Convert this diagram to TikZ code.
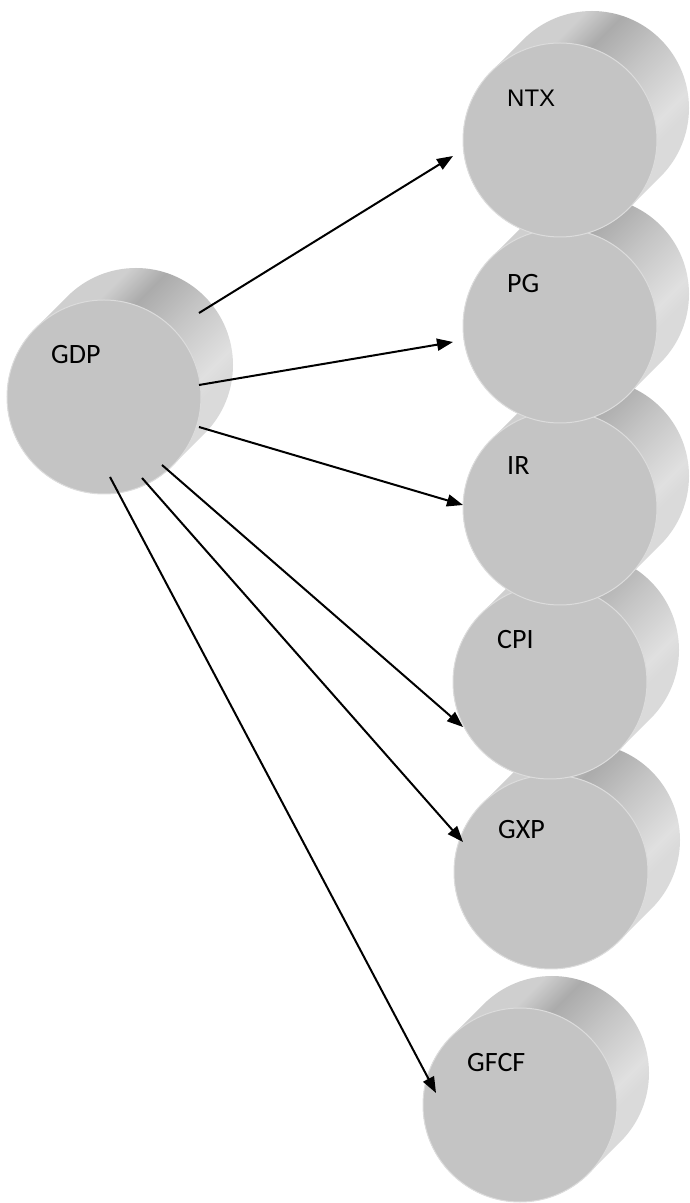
\documentclass[tikz,border=0pt]{standalone}
\usepackage{fontspec}
\setmainfont{Carlito}
\newfontfamily\arialfont{Liberation Sans}
\usetikzlibrary{calc,arrows.meta}
\definecolor{facegray}{HTML}{C4C4C4}
\definecolor{rimgray}{HTML}{DCDCDC}
\definecolor{sideA}{HTML}{CFCFCF}
\definecolor{sideB}{HTML}{ABABAB}
\definecolor{sideC}{HTML}{C4C4C4}
\definecolor{sideD}{HTML}{E0E0E0}
\definecolor{sideE}{HTML}{DADADA}
\pgfdeclarehorizontalshading{drumside}{100bp}{color(0bp)=(sideA); color(35bp)=(sideA);
  color(41bp)=(sideB); color(49.8bp)=(sideC); color(61.5bp)=(sideD); color(64.5bp)=(sideE); color(100bp)=(sideE)}
% a drum: shaded side, front face, label
\newcommand{\drum}[3]{%
  \shade[drumbody] ($(#2)+(135:97pt)$) -- ++(32,32) arc[start angle=135,end angle=-45,radius=97pt]
    -- ++(-32,-32) arc[start angle=-45,end angle=-225,radius=97pt] -- cycle;
  \node[drumfront] (#1) at (#2) {};
  \node[drumlabel] (#1-label) at ($(#1)+(-53,42)$) {#3};
}

\begin{document}
\begin{tikzpicture}[x=1pt,y=1pt,
    drumbody/.style={shading=drumside,shading angle=-45},
    drumfront/.style={circle,fill=facegray,draw=rimgray,line width=1pt,minimum size=194pt,inner sep=0pt},
    drumlabel/.style={anchor=west,inner sep=0pt,font=\fontsize{28}{32}\selectfont},
    arr/.style={-{Triangle[length=16pt,width=12pt]},line width=2pt}]
  \useasboundingbox (0,0) rectangle (689,1203);

  \drum{GDP}{104,806}{GDP};
  \drum{GFCF}{520,98}{GFCF};
  \drum{GXP}{551,331}{GXP};
  \drum{CPI}{550,521}{CPI};
  \drum{IR}{560,695}{IR};
  \drum{PG}{560,877}{PG};
  \drum{NTX}{560,1063}{\arialfont\fontsize{24}{28}\selectfont NTX};

  \draw[arr] ($(GDP)+(95,84)$) -- ($(NTX)+(-107,-16)$);
  \draw[arr] ($(GDP)+(95,12)$) -- ($(PG)+(-107,-16)$);
  \draw[arr] ($(GDP)+(95,-30)$) -- ($(IR)+(-97,3)$);
  \draw[arr] ($(GDP)+(58,-68)$) -- ($(CPI)+(-87,-45)$);
  \draw[arr] ($(GDP)+(38,-81)$) -- ($(GXP)+(-88,30)$);
  \draw[arr] ($(GDP)+(6,-80)$) -- ($(GFCF)+(-84,12)$);
\end{tikzpicture}
\end{document}
